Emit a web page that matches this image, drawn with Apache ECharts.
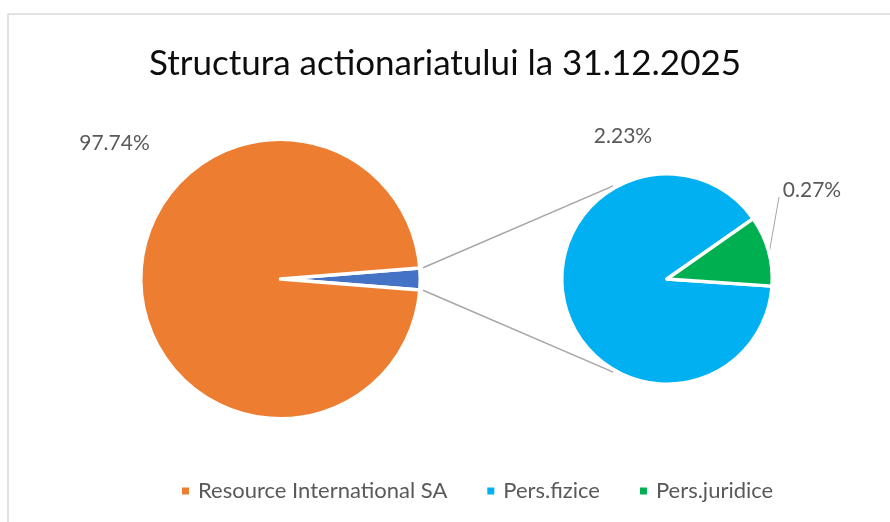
<!DOCTYPE html>
<html>
<head>
<meta charset="utf-8">
<script src="https://cdn.jsdelivr.net/npm/echarts@6/dist/echarts.min.js"></script>
<style>
html, body { margin: 0; padding: 0; background: #fff; }
#chart { width: 890px; height: 522px; }
</style>
</head>
<body>
<div id="chart"></div>
<script>
// date grafic
var titleText = 'Structura actionariatului la 31.12.2025';
var mainName = 'Resource International SA';
var mainValue = 97.74;
var otherName = 'Altele';
var subNames = ['Pers.fizice', 'Pers.juridice'];
var subValues = [2.23, 0.27];
var legendNames = ['Resource International SA', 'Pers.fizice', 'Pers.juridice'];

var FONT = 'Lato';
var TEXT = '#595959';
var LINE = '#A6A6A6';

var mainCenter = [280.5, 279], mainR = 138;
var subCenter = [667, 279], subR = 103.5;
var bw = 3.5;

// felia "altele" = suma celor doua din pie-ul secundar
var otherValue = subValues[0] + subValues[1];
var otherAngle = otherValue / (mainValue + otherValue) * 360;
var greenStart = 35; // unghiul de unde incepe felia verde
var subStart = greenStart + subValues[0] / otherValue * 360 - 360;
var greenMid = greenStart - subValues[1] / otherValue * 180;

function polar(c, r, deg) {
  var a = deg * Math.PI / 180;
  return [c[0] + r * Math.cos(a), c[1] - r * Math.sin(a)];
}

function pct(v) { return v.toFixed(2) + '%'; }

var labelPos = {
  main: [114.5, 143],
  fizice: [623, 136],
  juridice: [812, 190]
};

var chart = echarts.init(document.getElementById('chart'));

var option = {
  animation: false,
  backgroundColor: '#fff',
  title: {
    text: titleText,
    left: 'center',
    top: 39,
    textStyle: { fontFamily: FONT, fontSize: 35, fontWeight: 'normal', color: '#0D0D0D', lineHeight: 40 }
  },
  legend: {
    data: legendNames,
    left: 175,
    top: 474,
    icon: 'rect',
    itemWidth: 9,
    itemHeight: 9,
    itemGap: 38,
    selectedMode: false,
    textStyle: { fontFamily: FONT, fontSize: 22, color: TEXT, lineHeight: 24, padding: [0, 0, 0, 3] }
  },
  graphic: [
    { type: 'rect', shape: { x: 8, y: 14, width: 900, height: 600 }, style: { fill: 'none', stroke: '#D9D9D9', lineWidth: 1.5 }, silent: true },
    { type: 'polyline', shape: { points: [polar(mainCenter, mainR + 5, otherAngle / 2), polar(subCenter, subR + 4, 120)] }, style: { stroke: LINE, lineWidth: 1.5 }, silent: true },
    { type: 'polyline', shape: { points: [polar(mainCenter, mainR + 5, -otherAngle / 2), polar(subCenter, subR + 4, -120)] }, style: { stroke: LINE, lineWidth: 1.5 }, silent: true },
    { type: 'polyline', shape: { points: [polar(subCenter, subR + 3, greenMid), [labelPos.juridice[0] - 33, labelPos.juridice[1] + 7]] }, style: { stroke: LINE, lineWidth: 1 }, silent: true }
  ],
  series: [
    {
      type: 'pie',
      center: mainCenter,
      radius: mainR + bw / 2,
      startAngle: otherAngle / 2,
      clockwise: true,
      silent: true,
      itemStyle: { borderColor: '#fff', borderWidth: bw },
      label: {
        show: true,
        position: 'outside',
        formatter: function (p) { return pct(p.value); },
        fontFamily: FONT, fontSize: 21, color: TEXT
      },
      labelLine: { show: false },
      labelLayout: function () {
        return { x: labelPos.main[0], y: labelPos.main[1], align: 'center', verticalAlign: 'middle' };
      },
      data: [
        { name: otherName, value: otherValue, itemStyle: { color: '#4472C4' }, label: { show: false } },
        { name: mainName, value: mainValue, itemStyle: { color: '#ED7D31' } }
      ]
    },
    {
      type: 'pie',
      center: subCenter,
      radius: subR + bw / 2,
      startAngle: subStart,
      clockwise: true,
      silent: true,
      itemStyle: { borderColor: '#fff', borderWidth: bw },
      label: {
        show: true,
        position: 'outside',
        formatter: function (p) { return pct(p.value); },
        fontFamily: FONT, fontSize: 21, color: TEXT
      },
      labelLine: { show: false },
      labelLayout: function (p) {
        var pos = p.dataIndex === 0 ? labelPos.fizice : labelPos.juridice;
        return { x: pos[0], y: pos[1], align: 'center', verticalAlign: 'middle' };
      },
      data: [
        { name: subNames[0], value: subValues[0], itemStyle: { color: '#00B0F0' } },
        { name: subNames[1], value: subValues[1], itemStyle: { color: '#00B050' } }
      ]
    }
  ]
};

chart.setOption(option);
</script>
</body>
</html>
